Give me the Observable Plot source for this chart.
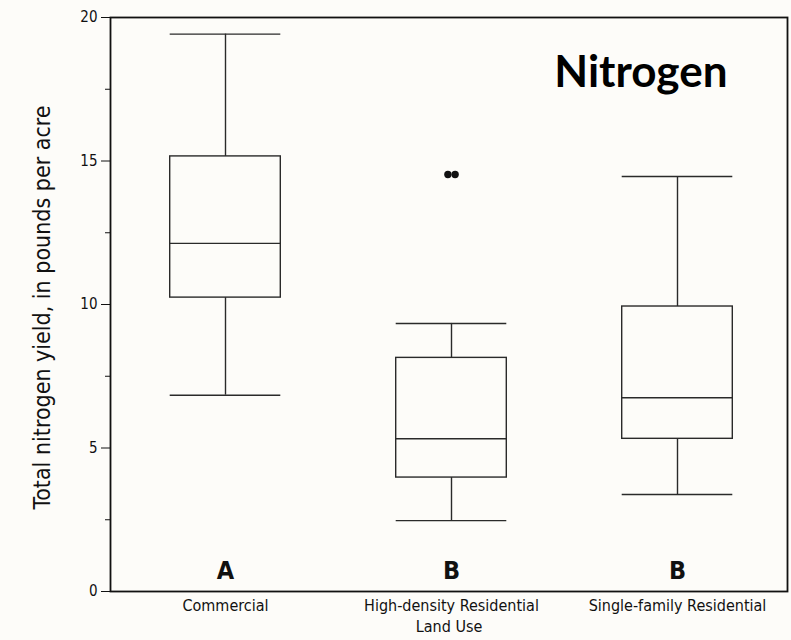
<!DOCTYPE html>
<html>
<head>
<meta charset="utf-8">
<script src="https://cdn.jsdelivr.net/npm/d3@7"></script>
<script src="https://cdn.jsdelivr.net/npm/@observablehq/plot@0.6"></script>
<style>
  html, body { margin: 0; padding: 0; background: #fdfcf9; }
  #chart { width: 791px; height: 640px; }
</style>
</head>
<body>
<div id="chart"></div>
<script>
const categories = ["Commercial", "High-density Residential", "Single-family Residential"];
const whiskerLow  = [6.84, 2.47, 3.38];
const quartile1   = [10.24, 3.97, 5.32];
const medians     = [12.13, 5.32, 6.75];
const quartile3   = [15.16, 8.14, 9.93];
const whiskerHigh = [19.42, 9.34, 14.46];
const groupLetters = ["A", "B", "B"];
const outlierCategory = ["High-density Residential", "High-density Residential"];
const outlierValues = [14.53, 14.53];
const majorTicks = [0, 5, 10, 15, 20];
const minorTicks = [2.5, 7.5, 12.5, 17.5];

const boxes = categories.map((c, i) => ({
  cat: c, lo: whiskerLow[i], q1: quartile1[i], med: medians[i], q3: quartile3[i], hi: whiskerHigh[i], letter: groupLetters[i]
}));
const outliers = outlierCategory.map((c, i) => ({cat: c, v: outlierValues[i]}));

const condensed = '"Liberation Sans Narrow", "DejaVu Sans Condensed", "Arial Narrow", sans-serif';
const inset = 57.7;
const lineColor = "#2a2a2a";

const chart = Plot.plot({
  width: 791,
  height: 640,
  marginLeft: 110,
  marginRight: 4,
  marginTop: 17,
  marginBottom: 49,
  style: {fontFamily: condensed, fontSize: "16px", background: "transparent", color: "#111", overflow: "visible"},
  x: {type: "band", domain: categories, range: [110.3, 790.7], padding: 0},
  y: {domain: [0, 20], range: [591, 17]},
  marks: [
    // whiskers
    Plot.ruleX(boxes, {x: "cat", y1: "lo", y2: "q1", stroke: lineColor, strokeWidth: 1.4}),
    Plot.ruleX(boxes, {x: "cat", y1: "q3", y2: "hi", stroke: lineColor, strokeWidth: 1.4}),
    Plot.tickY(boxes, {x: "cat", y: "lo", stroke: lineColor, strokeWidth: 1.4, insetLeft: inset, insetRight: inset}),
    Plot.tickY(boxes, {x: "cat", y: "hi", stroke: lineColor, strokeWidth: 1.4, insetLeft: inset, insetRight: inset}),
    // box
    Plot.barY(boxes, {x: "cat", y1: "q1", y2: "q3", fill: "none", stroke: lineColor, strokeWidth: 1.4, insetLeft: inset, insetRight: inset}),
    Plot.tickY(boxes, {x: "cat", y: "med", stroke: lineColor, strokeWidth: 1.4, insetLeft: inset, insetRight: inset}),
    // outliers
    ...outliers.map((o, i) => Plot.dot([o], {x: "cat", y: "v", r: 3.7, fill: "#111", stroke: "none", dx: i === 0 ? -3.6 : 3.6})),
    // group letters
    Plot.text(boxes, {x: "cat", y: () => 0.73, text: "letter", fontSize: 25, fontWeight: "bold", fill: "#111"}),
    // axes
    Plot.axisY(majorTicks, {tickSize: 9, tickPadding: 4, fontSize: 15, label: null, stroke: "#111"}),
    Plot.axisY(minorTicks, {tickSize: 5, tickFormat: () => "", label: null, stroke: "#111"}),
    Plot.axisX({tickSize: 0, tickPadding: 8, fontSize: 16, label: null}),
    Plot.frame({stroke: "#111", strokeWidth: 1.8}),
    // axis titles
    Plot.text(["Total nitrogen yield, in pounds per acre"], {frameAnchor: "left", textAnchor: "middle", dx: -68, dy: 3, rotate: -90, fontSize: 23, fill: "#111"}),
    Plot.text(["Land Use"], {frameAnchor: "bottom", dy: 40, fontSize: 16, fill: "#111"}),
    // title inside plot
    Plot.text(["Nitrogen"], {frameAnchor: "top-right", dx: -60, dy: 38, textAnchor: "end", fontFamily: "Lato, 'Open Sans', sans-serif", fontWeight: "bold", fontSize: 44, fill: "#000"})
  ]
});
document.getElementById("chart").appendChild(chart);
</script>
</body>
</html>
